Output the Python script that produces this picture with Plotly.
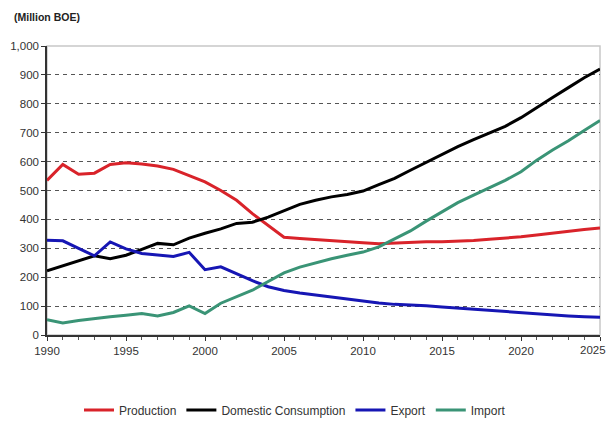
import plotly.graph_objects as go

# Annual series, million barrels of oil equivalent
years = list(range(1990, 2026))

production = [535, 590, 556, 560, 590, 596, 592, 585, 573, 552,
              530, 500, 466, 420, 378, 338, 334, 330, 325, 322,
              319, 316, 318, 322, 323, 323, 324, 327, 331, 335,
              340, 346, 353, 359, 365, 370]

consumption = [222, 240, 258, 274, 264, 276, 296, 317, 312, 335,
               352, 367, 386, 390, 408, 430, 452, 466, 478, 486,
               498, 520, 542, 570, 598, 625, 652, 676, 700, 722,
               752, 788, 822, 856, 890, 920]

export = [328, 326, 300, 274, 322, 298, 282, 278, 272, 286,
          226, 236, 211, 188, 167, 154, 145, 138, 131, 125,
          118, 111, 106, 104, 101, 97, 93, 89, 86, 82,
          76, 72, 68, 66, 63, 61]

imports = [53, 42, 50, 57, 63, 68, 74, 66, 78, 101,
           74, 110, 133, 155, 185, 215, 235, 250, 264, 276,
           287, 305, 333, 360, 394, 427, 458, 484, 510, 535,
           565, 605, 640, 672, 708, 742]

series = [
    ("Production", production, "#d9232a"),
    ("Domestic Consumption", consumption, "#000000"),
    ("Export", export, "#1616b4"),
    ("Import", imports, "#3a9476"),
]

x_ticks = [1990, 1995, 2000, 2005, 2010, 2015, 2020, 2025]
y_ticks = list(range(0, 1001, 100))

fig = go.Figure()
for name, values, color in series:
    fig.add_trace(go.Scatter(
        x=years, y=values, name=name, mode="lines",
        line=dict(color=color, width=3),
    ))

font = "Liberation Sans, Arial, sans-serif"
tick_font = dict(family=font, size=11.5, color="#333333")

# The last year label sits at the right edge of the figure; it is drawn as an
# annotation anchored on its right side so it stays inside the page.
last_tick = x_ticks[-1]
tick_text = [str(t) if t != last_tick else "" for t in x_ticks]

fig.update_layout(
    width=609, height=426,
    margin=dict(l=47, r=9, t=46, b=91, autoexpand=False),
    paper_bgcolor="white",
    plot_bgcolor="white",
    font=dict(family=font, size=11, color="#333333"),
    title=dict(
        text="<b>(Million BOE)</b>",
        font=dict(family=font, size=10.5, color="#222222"),
        x=14 / 609, xanchor="left", xref="container",
        y=1 - 17 / 426, yanchor="middle", yref="container",
    ),
    showlegend=True,
    legend=dict(
        orientation="h",
        xref="container", x=295 / 609, xanchor="center",
        yref="container", y=1 - 410 / 426, yanchor="middle",
        font=dict(family=font, size=12, color="#333333"),
        itemwidth=30,
        tracegroupgap=0,
    ),
    shapes=[
        dict(type="rect", xref="x domain", yref="y domain",
             x0=0, x1=1, y0=0, y1=1,
             line=dict(color="#c8c8c8", width=1.5), layer="below"),
    ],
    annotations=[
        dict(text=str(last_tick), x=last_tick, xref="x",
             y=0, yref="y domain", yanchor="top", yshift=-7,
             xanchor="right", xshift=8, showarrow=False,
             font=tick_font),
    ],
)

fig.update_xaxes(
    range=[1990, 2025],
    tickmode="array", tickvals=x_ticks, ticktext=tick_text,
    automargin=False,
    showgrid=False, zeroline=False,
    showline=True, linecolor="#333333", linewidth=1.5,
    ticks="outside", ticklen=4, tickcolor="#333333",
    minor=dict(dtick=1, ticks="outside", ticklen=3, tickcolor="#555555", showgrid=False),
    tickfont=tick_font,
)

fig.update_yaxes(
    range=[0, 1000],
    tickmode="array", tickvals=y_ticks,
    tickformat=",",
    automargin=False,
    showgrid=True, gridcolor="#555555", gridwidth=1, griddash="4px,4px",
    zeroline=False,
    showline=True, linecolor="#333333", linewidth=1.5,
    ticks="outside", ticklen=4, tickcolor="#333333",
    tickfont=tick_font,
)

fig.write_html("out.html")
